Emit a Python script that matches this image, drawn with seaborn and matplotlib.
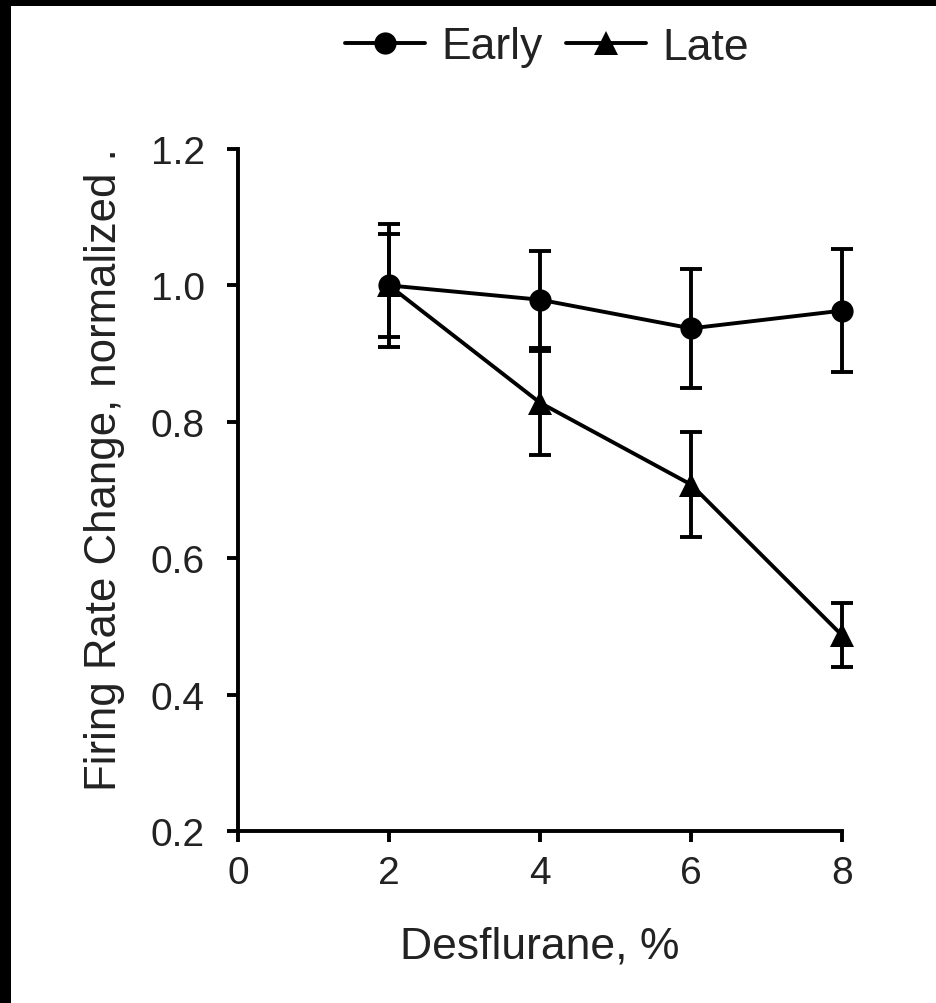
import matplotlib
matplotlib.use("Agg")
import matplotlib.pyplot as plt
from matplotlib.patches import Rectangle
import numpy as np
import pandas as pd
import seaborn as sns

# ---- data ----
desflurane = [2, 4, 6, 8]
early_mean = [1.00, 0.979, 0.937, 0.963]
early_err = [0.076, 0.071, 0.087, 0.090]
late_mean = [1.00, 0.828, 0.708, 0.487]
late_err = [0.090, 0.076, 0.077, 0.047]
series_names = ["Early", "Late"]
x_ticks = [0, 2, 4, 6, 8]
y_ticks = [0.2, 0.4, 0.6, 0.8, 1.0, 1.2]

sns.set_style("ticks")
plt.rcParams["font.family"] = ["Liberation Sans", "DejaVu Sans"]

W, H = 937, 1004
fig = plt.figure(figsize=(W / 100, H / 100), dpi=100)
fig.patch.set_facecolor("black")
fig.add_artist(Rectangle((11 / W, 0), 1 - 11 / W, 1 - 7 / H,
                         transform=fig.transFigure, facecolor="white",
                         edgecolor="none", zorder=-10))

left, right, bottom, top = 238, 842, 832, 150
ax = fig.add_axes([left / W, 1 - bottom / H, (right - left) / W, (bottom - top) / H])
ax.set_facecolor("white")

df_early = pd.DataFrame({"x": desflurane, "y": early_mean})
df_late = pd.DataFrame({"x": desflurane, "y": late_mean})

lw = 2.8
sns.lineplot(data=df_early, x="x", y="y", ax=ax, color="black", marker="o",
             markersize=16, linewidth=lw, markeredgewidth=0, label=series_names[0],
             zorder=3, clip_on=False)
sns.lineplot(data=df_late, x="x", y="y", ax=ax, color="black", marker="^",
             markersize=17, linewidth=lw, markeredgewidth=0, label=series_names[1],
             zorder=3, clip_on=False)
for m, e in [(early_mean, early_err), (late_mean, late_err)]:
    eb = ax.errorbar(desflurane, m, yerr=e, fmt="none", ecolor="black",
                     elinewidth=lw, capsize=8, capthick=lw, zorder=2)
    for art in eb.lines[1] + eb.lines[2]:
        art.set_clip_on(False)

ax.set_xlim(0, 8)
ax.set_ylim(0.2, 1.2)
ax.set_xticks(x_ticks)
ax.set_yticks(y_ticks)
ax.set_xticklabels([str(v) for v in x_ticks])
ax.set_yticklabels([f"{v:.1f}" for v in y_ticks])
ax.spines["top"].set_visible(False)
ax.spines["right"].set_visible(False)
for s in ["left", "bottom"]:
    ax.spines[s].set_linewidth(2.8)
    ax.spines[s].set_color("black")
ax.tick_params(axis="both", direction="out", length=8, width=2.8, color="black",
               labelsize=28, labelcolor="#222222")
ax.tick_params(axis="x", pad=9)
ax.tick_params(axis="y", pad=16)

ax.set_xlabel("Desflurane, %", fontsize=32, color="#222222")
ax.set_ylabel("Firing Rate Change, normalized .", fontsize=31.5, color="#222222")
ax.xaxis.set_label_coords(0.5, -0.138)
ax.yaxis.set_label_coords(-0.187, 0.531)

handles, labels = ax.get_legend_handles_labels()
ax.get_legend().remove()
fig.legend(handles, labels, loc="center", bbox_to_anchor=(547 / W, 1 - 48 / H),
           ncol=2, frameon=False, fontsize=32, handlelength=1.8,
           handletextpad=0.36, columnspacing=0.54, labelcolor="#222222")

fig.savefig("out.png", dpi=100, facecolor=fig.get_facecolor())
